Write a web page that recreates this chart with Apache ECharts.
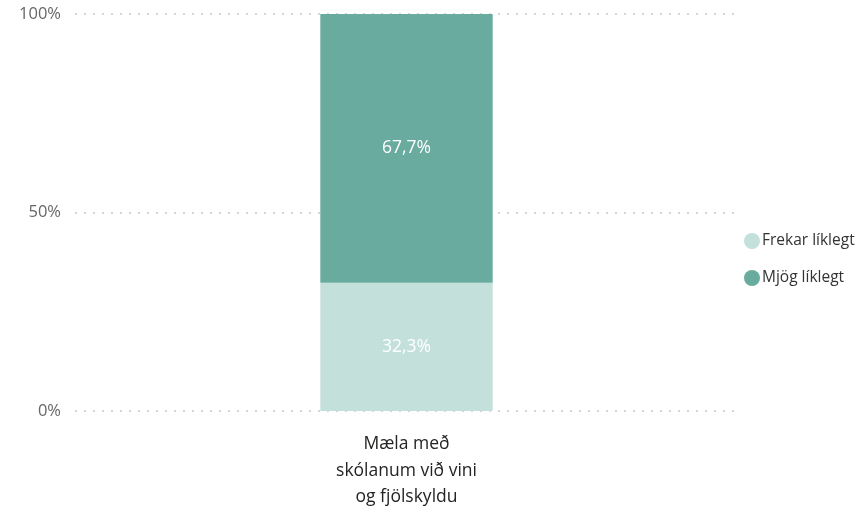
<!DOCTYPE html>
<html>
<head>
<meta charset="utf-8">
<script src="https://cdn.jsdelivr.net/npm/echarts@6/dist/echarts.min.js"></script>
<style>
  html, body { margin: 0; padding: 0; background: #fff; }
  #main { width: 861px; height: 511px; }
</style>
</head>
<body>
<div id="main"></div>
<script>
// gögn
var categories = ['Mæla með\nskólanum við vini\nog fjölskyldu'];
var frekar = [32.3];
var mjog = [67.7];
var yTicks = [0, 50, 100];

var myChart = echarts.init(document.getElementById('main'));
var fontFam = '"Open Sans", "Noto Sans", sans-serif';

function pct(p) {
    return p.value.toFixed(1).replace('.', ',') + '%';
}

myChart.setOption({
    animation: false,
    textStyle: { fontFamily: fontFam },
    grid: { left: 75, right: 123, top: 14, bottom: 100 },
    legend: {
        orient: 'vertical',
        left: 739,
        top: 228,
        itemWidth: 16,
        itemHeight: 16,
        itemGap: 21,
        icon: 'circle',
        textStyle: { fontSize: 15.5, color: '#333', fontFamily: fontFam, padding: [0, 0, 0, -3] },
        data: ['Frekar líklegt', 'Mjög líklegt']
    },
    xAxis: {
        type: 'category',
        data: categories,
        axisLine: { show: false },
        axisTick: { show: false },
        axisLabel: { fontSize: 17.5, color: '#252423', lineHeight: 26.5, margin: 20 }
    },
    yAxis: {
        type: 'value',
        min: yTicks[0],
        max: yTicks[yTicks.length - 1],
        interval: 50,
        axisLabel: { formatter: '{value}%', fontSize: 16.5, color: '#666', margin: 14 },
        splitLine: { lineStyle: { type: [2, 7], color: '#c8c8c8', width: 1.5 } }
    },
    series: [
        {
            name: 'Frekar líklegt',
            type: 'bar',
            stack: 'a',
            barWidth: '26%',
            data: frekar,
            itemStyle: { color: '#c3e0da' },
            label: { show: true, formatter: pct, color: '#fff', fontSize: 17.5 }
        },
        {
            name: 'Mjög líklegt',
            type: 'bar',
            stack: 'a',
            data: mjog,
            itemStyle: { color: '#69ab9e' },
            label: { show: true, formatter: pct, color: '#fff', fontSize: 17.5 }
        }
    ]
});
</script>
</body>
</html>
